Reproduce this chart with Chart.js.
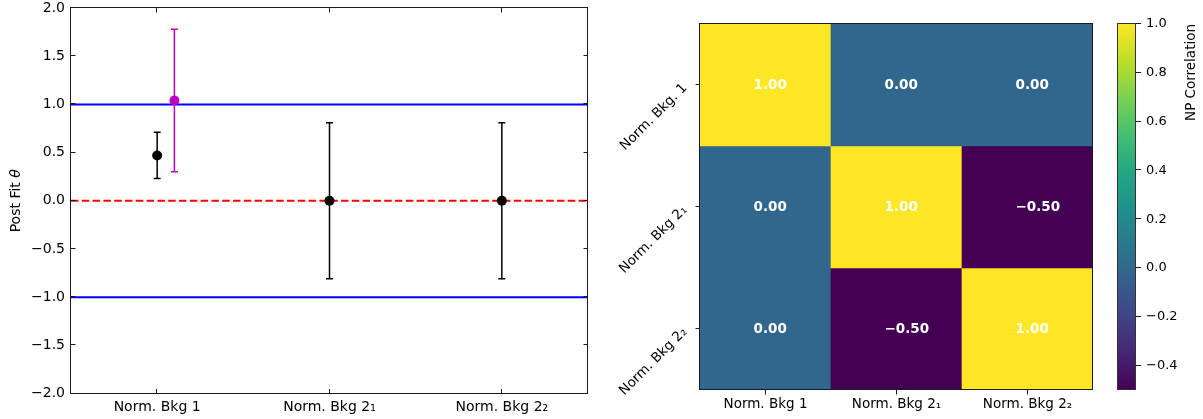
<!DOCTYPE html>
<html>
<head>
<meta charset="utf-8">
<script src="https://cdn.jsdelivr.net/npm/chart.js@4/dist/chart.umd.min.js"></script>
<style>
  html, body { margin: 0; padding: 0; background: #fff; }
  body { width: 1203px; height: 419px; position: relative; overflow: hidden; }
  canvas { position: absolute; top: 0; }
  #fit { left: 0; }
  #corr { left: 590px; }
  #cbar { left: 1100px; }
</style>
</head>
<body>
<canvas id="fit" width="600" height="419"></canvas>
<canvas id="corr" width="513" height="419"></canvas>
<canvas id="cbar" width="103" height="419"></canvas>
<script>
// ---- data -------------------------------------------------------------
const paramNames    = ['Norm. Bkg 1', 'Norm. Bkg 2\u2081', 'Norm. Bkg 2\u2082'];
const corrRowNames  = ['Norm. Bkg. 1', 'Norm. Bkg 2\u2081', 'Norm. Bkg 2\u2082'];
const paramPos      = [0, 1, 2];
const paramFit      = [0.47, 0.0, 0.0];
const paramErr      = [0.24, 0.81, 0.81];
const altPos        = [0.1];
const altFit        = [1.04];
const altErr        = [0.74];
const bandLevels    = [1, -1];
const nominalLevel  = 0;
const fitYRange     = [-2, 2];
const fitYStep      = 0.5;
const fitXRange     = [-0.5, 2.5];
const corrMatrix    = [
  [1.00,  0.00,  0.00],
  [0.00,  1.00, -0.50],
  [0.00, -0.50,  1.00]
];
const cbarMin   = -0.5;
const cbarMax   = 1.0;
const cbarTicks = [-0.4, -0.2, 0.0, 0.2, 0.4, 0.6, 0.8, 1.0];

// ---- styling helpers --------------------------------------------------
const FONT = "'DejaVu Sans', sans-serif";
const INK = '#000';
const SPINE = '#1a1a1a';
const VIRIDIS = ['#440154', '#482475', '#414487', '#355f8d', '#2a788e',
                 '#21918c', '#22a884', '#44bf70', '#7ad151', '#bddf26', '#fde725'];

function hexToRgb(h) {
  const n = parseInt(h.slice(1), 16);
  return [(n >> 16) & 255, (n >> 8) & 255, n & 255];
}
function viridisAt(t) {
  t = Math.min(1, Math.max(0, t));
  const f = t * (VIRIDIS.length - 1);
  const i = Math.min(VIRIDIS.length - 2, Math.floor(f));
  const u = f - i;
  const a = hexToRgb(VIRIDIS[i]), b = hexToRgb(VIRIDIS[i + 1]);
  const c = a.map((v, k) => Math.round(v + (b[k] - v) * u));
  return `rgb(${c[0]},${c[1]},${c[2]})`;
}
function fmt(v, d) {
  return v.toFixed(d).replace('-', '\u2212');
}
function crisp(v) { return Math.round(v) + 0.5; }
function noEdgePadding(s) {
  s.paddingTop = 0; s.paddingBottom = 0;
  s.paddingLeft = 0; s.paddingRight = 0;
}

function drawFrame(ctx, a, color) {
  ctx.save();
  ctx.strokeStyle = color;
  ctx.lineWidth = 1;
  const l = crisp(a.left) - 1, t = crisp(a.top) - 1;
  const r = crisp(a.right) - 1, b = crisp(a.bottom) - 1;
  ctx.strokeRect(l, t, r - l, b - t);
  ctx.restore();
}

// ---- left panel: post-fit pulls --------------------------------------
const errorBars = {
  id: 'errorBars',
  beforeDatasetDraw(chart, args) {
    const ds = chart.data.datasets[args.index];
    if (!ds.errors) return;
    const { ctx, scales: { x, y } } = chart;
    ctx.save();
    ctx.strokeStyle = ds.backgroundColor;
    ctx.lineWidth = 1.5;
    ds.data.forEach((p, i) => {
      const e = ds.errors[i];
      const px = x.getPixelForValue(p.x);
      const top = y.getPixelForValue(p.y + e);
      const bot = y.getPixelForValue(p.y - e);
      ctx.beginPath();
      ctx.moveTo(px, top); ctx.lineTo(px, bot);
      ctx.moveTo(px - 3.5, top); ctx.lineTo(px + 3.5, top);
      ctx.moveTo(px - 3.5, bot); ctx.lineTo(px + 3.5, bot);
      ctx.stroke();
    });
    ctx.restore();
  }
};

const fitAxes = {
  id: 'fitAxes',
  afterDatasetsDraw(chart) {
    const { ctx, chartArea: a, scales: { x, y } } = chart;
    drawFrame(ctx, a, SPINE);
    ctx.save();
    ctx.strokeStyle = SPINE;
    ctx.lineWidth = 1;
    const len = 4.5;
    ctx.beginPath();
    y.ticks.forEach(t => {
      const py = crisp(y.getPixelForValue(t.value)) - 1;
      ctx.moveTo(a.left, py); ctx.lineTo(a.left + len, py);
      ctx.moveTo(a.right, py); ctx.lineTo(a.right - len, py);
    });
    x.ticks.forEach(t => {
      const px = crisp(x.getPixelForValue(t.value)) - 1;
      ctx.moveTo(px, a.bottom); ctx.lineTo(px, a.bottom - len);
      ctx.moveTo(px, a.top); ctx.lineTo(px, a.top + len);
    });
    ctx.stroke();
    ctx.restore();
  },
  afterDraw(chart) {
    const { ctx, chartArea: a } = chart;
    ctx.save();
    ctx.translate(16.5, (a.top + a.bottom) / 2);
    ctx.rotate(-Math.PI / 2);
    ctx.fillStyle = INK;
    ctx.textBaseline = 'middle';
    const plain = 'Post Fit ', sym = '\u03b8';
    ctx.font = `14px ${FONT}`;
    const w1 = ctx.measureText(plain).width;
    ctx.font = `oblique 14px ${FONT}`;
    const w2 = ctx.measureText(sym).width;
    const x0 = -(w1 + w2) / 2;
    ctx.font = `14px ${FONT}`;
    ctx.textAlign = 'left';
    ctx.fillText(plain, x0, 0);
    ctx.font = `oblique 14px ${FONT}`;
    ctx.fillText(sym, x0 + w1, 0);
    ctx.restore();
  }
};

const hline = (level, color, dash) => ({
  type: 'line',
  data: [{ x: fitXRange[0], y: level }, { x: fitXRange[1], y: level }],
  borderColor: color,
  borderWidth: 2,
  borderDash: dash,
  pointRadius: 0,
  order: 3
});

new Chart(document.getElementById('fit'), {
  type: 'scatter',
  data: {
    datasets: [
      ...bandLevels.map(v => hline(v, '#0000ff', [])),
      hline(nominalLevel, '#ff0000', [7.5, 3.3]),
      {
        type: 'scatter',
        data: paramPos.map((x, i) => ({ x, y: paramFit[i] })),
        errors: paramErr,
        backgroundColor: '#000000',
        borderWidth: 0,
        pointRadius: 5,
        order: 1
      },
      {
        type: 'scatter',
        data: altPos.map((x, i) => ({ x, y: altFit[i] })),
        errors: altErr,
        backgroundColor: '#bf00bf',
        borderWidth: 0,
        pointRadius: 5,
        order: 1
      }
    ]
  },
  options: {
    responsive: false,
    animation: false,
    devicePixelRatio: 1,
    layout: { padding: { top: 8, right: 12, bottom: 0, left: 0 } },
    plugins: { legend: { display: false }, tooltip: { enabled: false } },
    scales: {
      x: {
        type: 'linear',
        min: fitXRange[0], max: fitXRange[1],
        grid: { display: false, drawTicks: false },
        border: { display: false },
        afterBuildTicks(s) { s.ticks = paramPos.map(v => ({ value: v })); },
        ticks: {
          autoSkip: false, maxRotation: 0, padding: 5,
          color: INK, font: { family: FONT, size: 14 },
          callback: (v, i) => paramNames[i]
        },
        afterFit(s) { s.height = 25.5; noEdgePadding(s); }
      },
      y: {
        type: 'linear',
        min: fitYRange[0], max: fitYRange[1],
        grid: { display: false, drawTicks: false },
        border: { display: false },
        ticks: {
          stepSize: fitYStep, padding: 6,
          color: INK, font: { family: FONT, size: 14 },
          callback: v => fmt(v, 1)
        },
        afterFit(s) { s.width = 71; noEdgePadding(s); }
      }
    }
  },
  plugins: [errorBars, fitAxes]
});

// ---- right panel: correlation matrix ---------------------------------
const corrDecor = {
  id: 'corrDecor',
  afterDatasetsDraw(chart) {
    const { ctx, chartArea: a, scales: { x, y } } = chart;
    // cell annotations
    ctx.save();
    ctx.fillStyle = '#ffffff';
    ctx.font = `bold 13.5px ${FONT}`;
    ctx.textAlign = 'left';
    ctx.textBaseline = 'middle';
    chart.data.datasets.forEach((ds, r) => {
      chart.getDatasetMeta(r).data.forEach((bar, c) => {
        const cy = (bar.y + bar.base) / 2;
        ctx.fillText(fmt(ds.values[c], 2), bar.x - 12, cy + 0.5);
      });
    });
    ctx.restore();
    drawFrame(ctx, a, SPINE);
    // outward ticks
    ctx.save();
    ctx.strokeStyle = SPINE;
    ctx.lineWidth = 1;
    ctx.beginPath();
    x.ticks.forEach((t, i) => {
      const px = crisp(x.getPixelForTick(i)) - 1;
      ctx.moveTo(px, a.bottom); ctx.lineTo(px, a.bottom + 4.5);
    });
    y.ticks.forEach(t => {
      const py = crisp(y.getPixelForValue(t.value)) - 1;
      ctx.moveTo(a.left, py); ctx.lineTo(a.left - 4.5, py);
    });
    ctx.stroke();
    ctx.restore();
    // rotated row labels
    ctx.save();
    ctx.fillStyle = INK;
    ctx.font = `13.5px ${FONT}`;
    ctx.textAlign = 'right';
    ctx.textBaseline = 'middle';
    y.ticks.forEach((t, i) => {
      const py = y.getPixelForValue(t.value);
      ctx.save();
      ctx.translate(a.left - 15, py + 1);
      ctx.rotate(-Math.PI / 4);
      ctx.fillText(corrRowNames[i], 0, 0);
      ctx.restore();
    });
    ctx.restore();
  }
};

new Chart(document.getElementById('corr'), {
  type: 'bar',
  data: {
    labels: paramNames,
    datasets: corrMatrix.map((row, r) => ({
      label: corrRowNames[r],
      data: row.map(() => [paramPos[r] - 0.5, paramPos[r] + 0.5]),
      values: row,
      backgroundColor: row.map(v => viridisAt((v - cbarMin) / (cbarMax - cbarMin))),
      borderWidth: 0,
      grouped: false,
      barPercentage: 1,
      categoryPercentage: 1
    }))
  },
  options: {
    responsive: false,
    animation: false,
    devicePixelRatio: 1,
    layout: { padding: { top: 24, right: 10, bottom: 0, left: 0 } },
    plugins: { legend: { display: false }, tooltip: { enabled: false } },
    scales: {
      x: {
        type: 'category',
        offset: true,
        grid: { display: false, drawTicks: false },
        border: { display: false },
        ticks: {
          autoSkip: false, maxRotation: 0, padding: 6,
          color: INK, font: { family: FONT, size: 13.5 }
        },
        afterFit(s) { s.height = 29; noEdgePadding(s); }
      },
      y: {
        type: 'linear',
        min: -0.5, max: 2.5,
        reverse: true,
        grid: { display: false, drawTicks: false },
        border: { display: false },
        afterBuildTicks(s) { s.ticks = paramPos.map(v => ({ value: v })); },
        ticks: { display: false },
        afterFit(s) { s.width = 110; noEdgePadding(s); }
      }
    }
  },
  plugins: [corrDecor]
});

// ---- colour bar --------------------------------------------------------
const cbarDecor = {
  id: 'cbarDecor',
  afterDatasetsDraw(chart) {
    const { ctx, chartArea: a, scales: { y } } = chart;
    drawFrame(ctx, a, '#333333');
    ctx.save();
    ctx.strokeStyle = SPINE;
    ctx.lineWidth = 1;
    ctx.beginPath();
    y.ticks.forEach(t => {
      const py = crisp(y.getPixelForValue(t.value)) - 1;
      ctx.moveTo(a.right, py); ctx.lineTo(a.right + 5, py);
    });
    ctx.stroke();
    ctx.restore();
  },
  afterDraw(chart) {
    const { ctx, chartArea: a } = chart;
    ctx.save();
    ctx.fillStyle = INK;
    ctx.font = `13.5px ${FONT}`;
    ctx.translate(91, a.top);
    ctx.rotate(-Math.PI / 2);
    ctx.textAlign = 'right';
    ctx.textBaseline = 'middle';
    ctx.fillText('NP Correlation', 0, 0);
    ctx.restore();
  }
};

new Chart(document.getElementById('cbar'), {
  type: 'bar',
  data: {
    labels: ['NP Correlation'],
    datasets: [{
      data: [[cbarMin, cbarMax]],
      backgroundColor(c) {
        const ch = c.chart, ys = ch.scales.y;
        if (!ch.chartArea || !ys) return VIRIDIS[5];
        const y0 = ys.getPixelForValue(cbarMin), y1 = ys.getPixelForValue(cbarMax);
        if (!isFinite(y0) || !isFinite(y1)) return VIRIDIS[5];
        const g = ch.ctx.createLinearGradient(0, y0, 0, y1);
        VIRIDIS.forEach((col, i) => g.addColorStop(i / (VIRIDIS.length - 1), col));
        return g;
      },
      borderWidth: 0,
      inflateAmount: 0,
      barPercentage: 1,
      categoryPercentage: 1
    }]
  },
  options: {
    responsive: false,
    animation: false,
    devicePixelRatio: 1,
    layout: { padding: { top: 24, right: 0, bottom: 29, left: 18 } },
    plugins: { legend: { display: false }, tooltip: { enabled: false } },
    scales: {
      x: { display: false },
      y: {
        position: 'right',
        type: 'linear',
        min: cbarMin, max: cbarMax,
        grid: { display: false, drawTicks: false },
        border: { display: false },
        afterBuildTicks(s) { s.ticks = cbarTicks.map(v => ({ value: v })); },
        ticks: {
          padding: 10,
          color: INK, font: { family: FONT, size: 13 },
          callback: v => fmt(v, 1)
        },
        afterFit(s) { s.width = 67; noEdgePadding(s); }
      }
    }
  },
  plugins: [cbarDecor]
});
</script>
</body>
</html>
